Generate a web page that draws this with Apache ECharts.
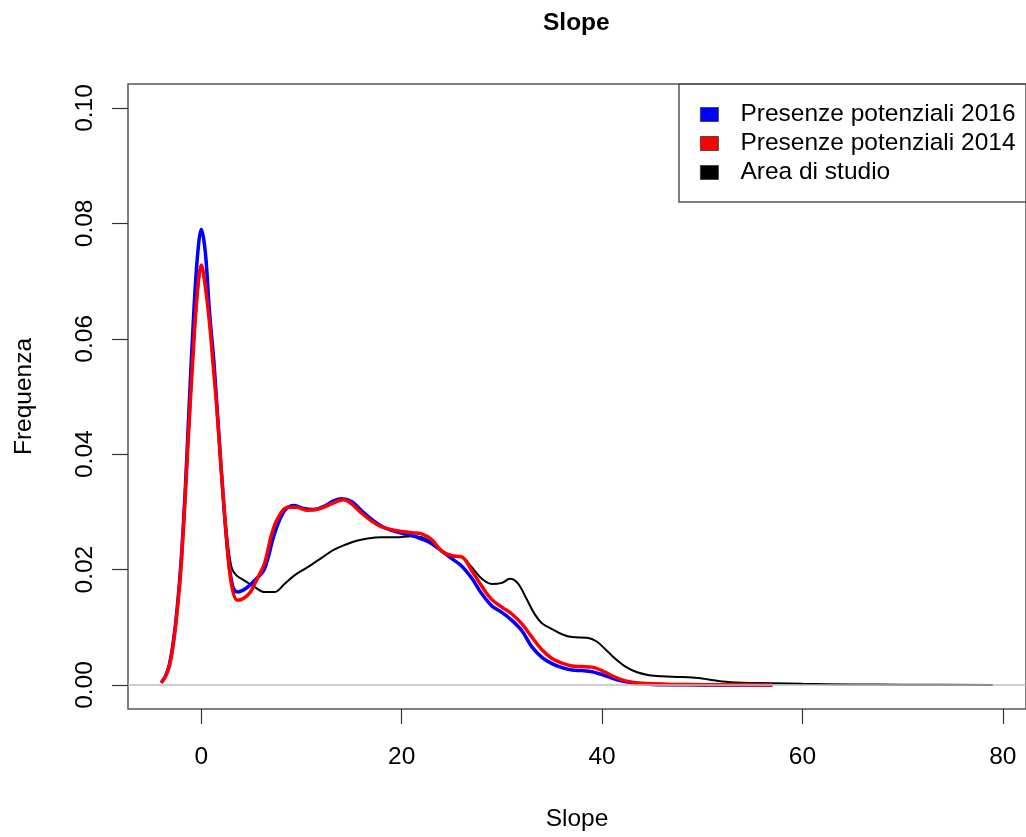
<!DOCTYPE html>
<html>
<head>
<meta charset="utf-8">
<script src="https://cdn.jsdelivr.net/npm/echarts@6/dist/echarts.min.js"></script>
<style>
html,body{margin:0;padding:0;background:#fff;}
#chart{width:1026px;height:837px;}
</style>
</head>
<body>
<div id="chart"></div>
<script>
// ---- Data ----
const chartTitle = "Slope";
const xAxisName = "Slope";
const yAxisName = "Frequenza";
const xTicks = [0, 20, 40, 60, 80];
const yTicks = [0, 0.02, 0.04, 0.06, 0.08, 0.10];
const seriesNames = ["Presenze potenziali 2016", "Presenze potenziali 2014", "Area di studio"];

// [slope, density]
const presenze2016 = [
  [-4.0,0.0004],[-3.6,0.0015],[-3.2,0.0035],[-2.8,0.0075],[-2.4,0.0135],[-2.0,0.022],
  [-1.6,0.034],[-1.2,0.049],[-0.8,0.063],[-0.4,0.074],[0.0,0.079],[0.4,0.075],
  [0.8,0.065],[1.3,0.055],[1.96,0.038],[2.6,0.0236],[3.1,0.0173],[3.6,0.0161],
  [4.5,0.0168],[5.3,0.0181],[6.3,0.0201],[7.3,0.0262],[8.3,0.0302],[9.3,0.0311],
  [10.2,0.0306],[11.2,0.0304],[12.3,0.031],[13.2,0.0319],[14.0,0.0323],[15.0,0.0318],
  [16.0,0.0302],[17.0,0.0287],[18.0,0.0275],[19.0,0.0268],[20.0,0.0263],[21.0,0.0259],
  [22.0,0.0253],[23.0,0.0245],[24.0,0.0232],[25.0,0.0219],[26.0,0.0206],[27.0,0.0185],
  [28.0,0.0158],[29.0,0.0137],[30.0,0.0126],[31.0,0.0112],[32.0,0.0094],[33.0,0.0066],
  [34.0,0.0048],[35.0,0.0037],[36.0,0.003],[37.0,0.0026],[38.0,0.0025],[39.0,0.0023],
  [40.0,0.0018],[41.0,0.0012],[42.0,0.0007],[43.0,0.0004],[44.0,0.0002],[45.0,0.0001],
  [47.0,0.00005],[50.0,0.00002],[57.0,0.0]
];
const presenze2014 = [
  [-4.0,0.0004],[-3.6,0.0014],[-3.2,0.0032],[-2.8,0.007],[-2.4,0.013],[-2.0,0.021],
  [-1.6,0.033],[-1.2,0.046],[-0.8,0.058],[-0.4,0.068],[0.0,0.0728],[0.4,0.069],
  [0.8,0.063],[1.2,0.055],[1.5,0.049],[2.0,0.037],[2.5,0.026],[3.0,0.0175],
  [3.6,0.0147],[4.2,0.015],[4.9,0.0161],[5.6,0.0185],[6.3,0.021],[7.0,0.026],
  [7.6,0.0288],[8.6,0.0308],[9.5,0.0308],[10.5,0.0303],[11.5,0.0304],[12.5,0.031],
  [13.5,0.0318],[14.2,0.0321],[15.0,0.0314],[16.0,0.0298],[17.0,0.0284],[18.0,0.0274],
  [19.0,0.0269],[20.0,0.0266],[21.0,0.0264],[22.0,0.0262],[23.0,0.0252],[24.0,0.0232],
  [25.0,0.0224],[26.0,0.0222],[27.0,0.0198],[28.0,0.0171],[29.0,0.0148],[30.0,0.0135],
  [31.0,0.0123],[32.0,0.0106],[33.0,0.0083],[34.0,0.0061],[35.0,0.0046],[36.0,0.0038],
  [37.0,0.0033],[38.0,0.0032],[39.0,0.0031],[40.0,0.0025],[41.0,0.0016],[42.0,0.0009],
  [43.0,0.0005],[44.0,0.0003],[45.0,0.0002],[47.0,0.0001],[50.0,0.00005],[57.0,0.0]
];
const areaStudio = [
  [-4.0,0.0004],[-3.6,0.0014],[-3.2,0.0032],[-2.8,0.007],[-2.4,0.013],[-2.0,0.021],
  [-1.6,0.032],[-1.2,0.045],[-0.8,0.057],[-0.4,0.067],[0.0,0.0722],[0.4,0.069],
  [0.8,0.063],[1.2,0.056],[1.6,0.047],[2.0,0.0365],[2.5,0.027],[3.0,0.0205],
  [3.5,0.019],[4.3,0.0181],[5.3,0.017],[6.3,0.0161],[7.3,0.0161],[8.3,0.0175],
  [9.3,0.019],[10.5,0.0203],[11.9,0.0219],[13.2,0.0234],[14.5,0.0244],[15.5,0.025],
  [16.6,0.0254],[18.0,0.0256],[19.5,0.0256],[20.9,0.0258],[22.0,0.0256],[23.0,0.0247],
  [24.0,0.0233],[25.0,0.0224],[26.0,0.0222],[27.0,0.0204],[28.0,0.0184],[29.0,0.0175],
  [30.0,0.0177],[30.8,0.0184],[31.6,0.0176],[32.5,0.0148],[33.2,0.0125],[34.0,0.0107],
  [35.0,0.0097],[36.0,0.0088],[37.0,0.0083],[38.5,0.0082],[39.5,0.0075],[40.5,0.0059],
  [41.5,0.0043],[42.5,0.003],[43.5,0.0022],[44.7,0.0017],[46.0,0.0015],[47.5,0.0014],
  [49.0,0.0013],[50.5,0.001],[52.0,0.0006],[54.0,0.0004],[57.0,0.0003],[60.0,0.0002],
  [65.0,0.0001],[70.0,0.00005],[79.0,0.00002]
];

// ---- Chart ----
const FONT = "'Liberation Sans', Arial, sans-serif";
const FS = 24.5;
const chart = echarts.init(document.getElementById('chart'), null, {renderer: 'canvas'});
const option = {
  animation: false,
  backgroundColor: '#ffffff',
  title: {
    text: chartTitle,
    left: 543, top: 11,
    padding: 0,
    textStyle: {fontFamily: FONT, fontSize: FS, fontWeight: 'bold', color: '#000'}
  },
  grid: {
    left: 128, top: 84, width: 901, height: 625,
    show: true, borderColor: '#555', borderWidth: 1.5, backgroundColor: 'transparent',
    containLabel: false
  },
  legend: {
    orient: 'vertical',
    left: 700, top: 100,
    padding: 0,
    itemGap: 0,
    itemWidth: 18, itemHeight: 14,
    icon: 'rect',
    selectedMode: false,
    data: seriesNames,
    itemStyle: {borderColor: '#333', borderWidth: 0.8},
    textStyle: {fontFamily: FONT, fontSize: FS, color: '#000', lineHeight: 29, padding: [0, 0, 0, 17]}
  },
  xAxis: {
    type: 'value',
    min: -7.32, max: 82.32,
    name: xAxisName,
    nameLocation: 'middle',
    nameGap: 98,
    nameTextStyle: {fontFamily: FONT, fontSize: FS, color: '#000'},
    axisLine: {show: false, onZero: false},
    splitLine: {show: false},
    axisTick: {show: true, inside: false, customValues: xTicks, length: 15, lineStyle: {color: '#333', width: 1.2}},
    axisLabel: {show: true, customValues: xTicks, margin: 36, fontFamily: FONT, fontSize: FS, color: '#000'}
  },
  yAxis: {
    type: 'value',
    min: -0.00416, max: 0.10416,
    name: yAxisName,
    nameLocation: 'middle',
    nameGap: 91,
    nameRotate: 90,
    nameTextStyle: {fontFamily: FONT, fontSize: FS, color: '#000'},
    axisLine: {show: false, onZero: false},
    splitLine: {show: false},
    axisTick: {show: true, inside: false, customValues: yTicks, length: 16, lineStyle: {color: '#333', width: 1.2}},
    axisLabel: {
      show: true, customValues: yTicks, rotate: 90, margin: 30,
      fontFamily: FONT, fontSize: FS, color: '#000',
      formatter: v => v.toFixed(2)
    }
  },
  graphic: [{
    type: 'rect',
    shape: {x: 679, y: 84, width: 400, height: 118},
    style: {fill: 'none', stroke: '#555', lineWidth: 1.5},
    z: 100, silent: true
  }],
  series: [
    {
      name: seriesNames[2], type: 'line', data: areaStudio, smooth: 0.35,
      showSymbol: false, symbol: 'none',
      itemStyle: {color: '#000000'},
      lineStyle: {color: '#000000', width: 2},
      markLine: {
        silent: true, symbol: 'none', label: {show: false},
        lineStyle: {color: '#bebebe', width: 1.5, type: 'solid'},
        data: [{yAxis: 0}]
      },
      z: 2
    },
    {
      name: seriesNames[0], type: 'line', data: presenze2016, smooth: 0.35,
      showSymbol: false, symbol: 'none',
      itemStyle: {color: '#0000ff'},
      lineStyle: {color: '#0000ff', width: 3.5},
      z: 3
    },
    {
      name: seriesNames[1], type: 'line', data: presenze2014, smooth: 0.35,
      showSymbol: false, symbol: 'none',
      itemStyle: {color: '#ff0000'},
      lineStyle: {color: '#ff0000', width: 3.5},
      z: 4
    }
  ]
};
chart.setOption(option);
</script>
</body>
</html>
